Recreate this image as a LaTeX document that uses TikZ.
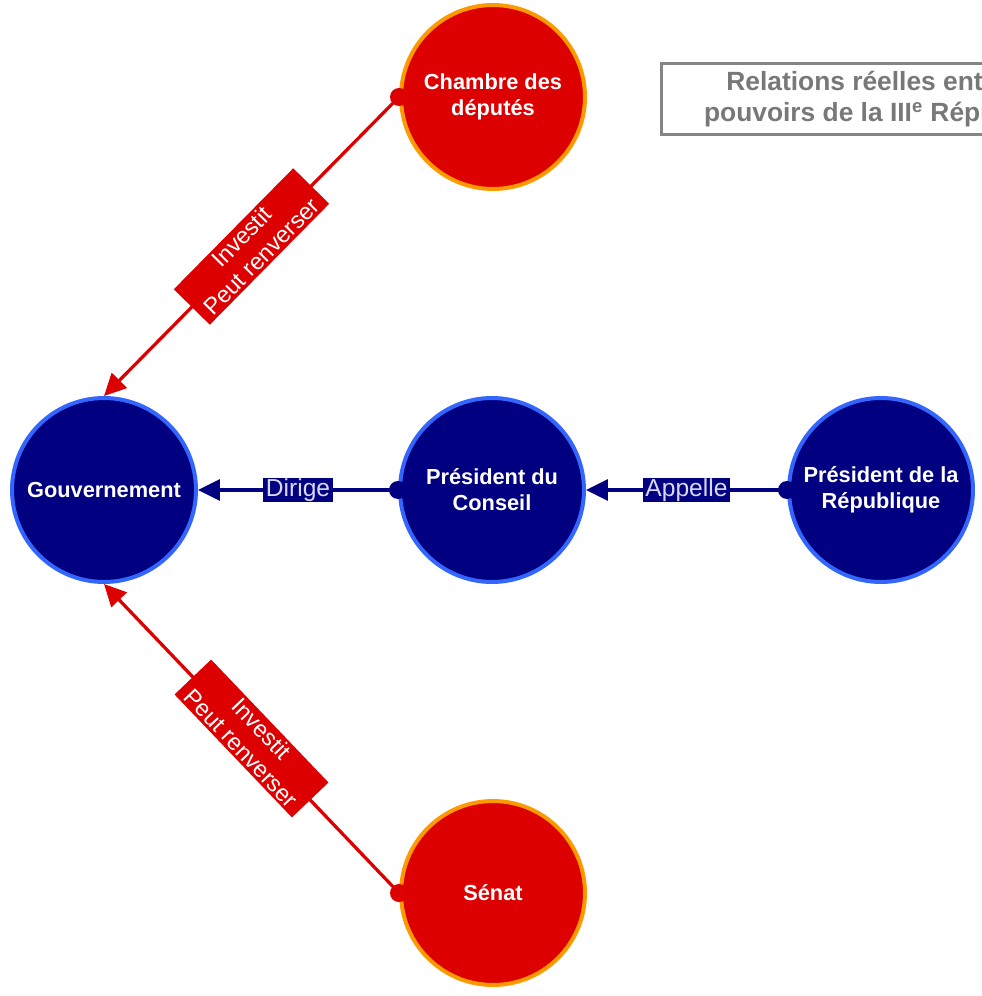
\documentclass[tikz,border=0pt]{standalone}
\usepackage{fontspec}
\setmainfont{Liberation Sans}
\usetikzlibrary{arrows.meta}
\usetikzlibrary{shapes.geometric}
\usetikzlibrary{positioning}

\definecolor{rougeIII}{HTML}{DD0000}
\definecolor{orangeIII}{HTML}{FF9900}
\definecolor{marineIII}{HTML}{000080}
\definecolor{bleuIII}{HTML}{3366FF}
\definecolor{grisIII}{HTML}{858585}
\definecolor{lavandeIII}{HTML}{D8D8F4}

\tikzstyle{chambre}=[circle, fill=rougeIII, draw=orangeIII, line width=0.08cm, minimum size=3.68cm, text=white, align=center, font=\fontsize{12.4}{14.7}\selectfont\bfseries]
\tikzstyle{pouvoir}=[chambre, fill=marineIII, draw=bleuIII]
\tikzstyle{titre}=[draw=grisIII, line width=0.06cm, fill=white, text=grisIII!90!black, align=center, minimum width=9.12cm, minimum height=1.42cm, font=\fontsize{15}{17.6}\selectfont\bfseries]
\tikzstyle{lienrouge}=[draw=rougeIII, line width=0.065cm, -{Triangle[length=0.44cm,width=0.42cm]}]
\tikzstyle{lienbleu}=[lienrouge, draw=marineIII]
\tikzstyle{etiquetterouge}=[fill=rougeIII, text=white, align=center, sloped, inner xsep=0pt, inner ysep=1.5pt, minimum width=3.4cm, font=\fontsize{13.3}{16}\selectfont]
\tikzstyle{etiquettebleue}=[fill=marineIII, text=lavandeIII, inner xsep=1.5pt, inner ysep=0.5pt, font=\fontsize{14}{16}\selectfont]

\begin{document}
\begin{tikzpicture}[x=0.02cm, y=-0.02cm]

        \useasboundingbox (0,0) rectangle (982,996);

        % les organes
        \node [chambre] (chambre) at (493,97) {Chambre des\\députés};
        \node [chambre] (senat) at (493,893) {Sénat};
        \node [pouvoir] (gouv) at (104,490) {Gouvernement};
        \node [pouvoir] (pdc) at (492,490) {Président du\\Conseil};
        \node [pouvoir] (pdr) at (881,490) {Président de la\\République};

        \node [titre] (titre) at (889,99) {Relations réelles entre les\\pouvoirs de la III\textsuperscript{e} République};

        % les relations
        \draw [lienrouge] (chambre.west) -- node [etiquetterouge] {Investit\\Peut renverser} (gouv.north);
        \draw [lienrouge] (senat.west) -- node [etiquetterouge] {Investit\\Peut renverser} (gouv.south);
        \draw [lienbleu] (pdc.west) -- node [etiquettebleue] {Dirige} (gouv.east);
        \draw [lienbleu] (pdr.west) -- node [etiquettebleue] {Appelle} (pdc.east);

        \fill [rougeIII] (chambre.west) circle (9);
        \fill [rougeIII] (senat.west) circle (9);
        \fill [marineIII] (pdc.west) circle (9);
        \fill [marineIII] (pdr.west) circle (9);

\end{tikzpicture}
\end{document}
